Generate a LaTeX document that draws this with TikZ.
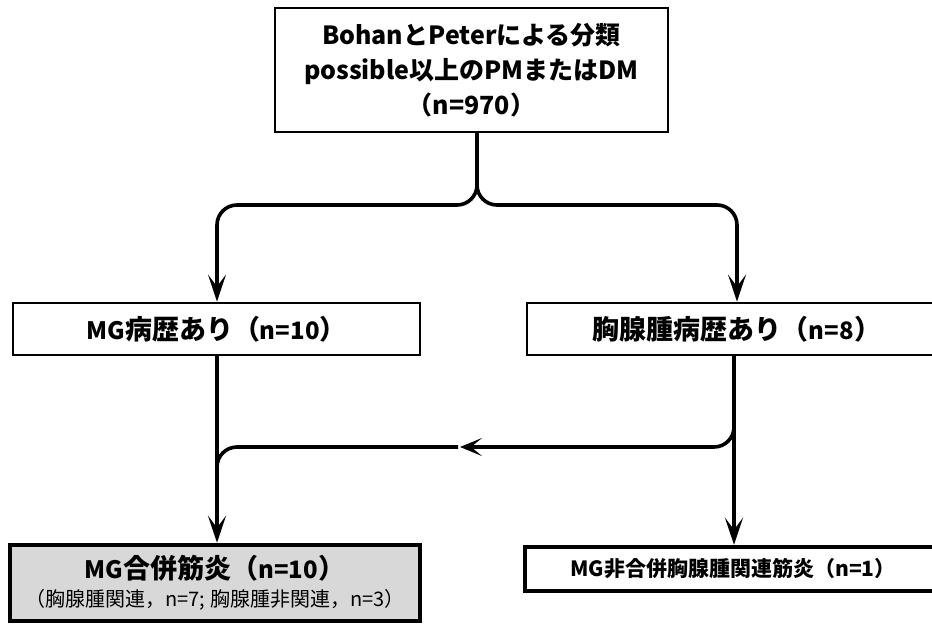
\documentclass[tikz,border=0pt]{standalone}
\usepackage{fontspec}
\setmainfont{Noto Sans CJK JP}
\usetikzlibrary{arrows.meta,calc}
\newcommand{\latn}[1]{{\fontsize{24}{24}\selectfont #1}}
\tikzset{
  box/.style={draw, line width=#1, fill=white, inner sep=0pt, align=center},
  conn/.style={line width=3.6pt},
  roundconn/.style={conn, rounded corners=20pt},
  arrowend/.style={conn, -{Stealth[length=27pt,width=18pt,inset=12pt]}},
  midarrow/.style={conn, -{Stealth[length=22pt,width=18pt,inset=11pt]}},
}
\begin{document}
\begin{tikzpicture}[x=1pt,y=-1pt]
\useasboundingbox (0,0) rectangle (932,624);
\clip (0,0) rectangle (932,624);
\node[box=2.2pt, minimum width=393pt, minimum height=124pt, font=\bfseries\fontsize{25}{35}\selectfont] (top) at (471.5,70)
  {BohanとPeterによる分類\\possible以上のPMまたはDM\\（n=970）};
\node[box=2.8pt, minimum width=407pt, minimum height=52pt, font=\bfseries\fontsize{27}{28}\selectfont] (mg) at (216.5,329) {\latn{MG}病歴あり（\latn{n=10}）};
\node[box=2.8pt, minimum width=420pt, minimum height=52pt, font=\bfseries\fontsize{27}{28}\selectfont] (thy) at (737,329) {胸腺腫病歴あり（\latn{n=8}）};
\node[box=4.5pt, fill={rgb,255:red,216;green,216;blue,216}, minimum width=410pt, minimum height=76pt, font=\fontsize{20}{28}\selectfont] (mgm) at (215,583)
  {{\bfseries\fontsize{27}{28}\selectfont \latn{MG}合併筋炎（\latn{n=10}）}\\{\fontsize{20}{28}\selectfont（胸腺腫関連，n=7; 胸腺腫非関連，n=3）}};
\node[box=4.5pt, minimum width=416pt, minimum height=44pt, font=\bfseries\fontsize{21}{22}\selectfont] (nonmg) at (733,569)
  {MG非合併胸腺腫関連筋炎（n=1）};
\coordinate (stem) at (477,132);
\coordinate (split) at (477,205);
\coordinate (lx) at (217,0);
\coordinate (rx) at (737,0);
\coordinate (rx2) at (734,0);
\coordinate (mtip) at (460,447);
\coordinate (mstart) at (734,400);
\coordinate (mend) at (217,480);
% split from top box
\draw[roundconn] (stem) |- (split -| lx) -- ($(mg.north -| lx)+(0,-40)$);
\draw[arrowend] ($(mg.north -| lx)+(0,-41)$) -- (mg.north -| lx);
\draw[roundconn] (stem) |- (split -| rx) -- ($(thy.north -| rx)+(0,-40)$);
\draw[arrowend] ($(thy.north -| rx)+(0,-41)$) -- (thy.north -| rx);
% down arrows
\draw[arrowend] (mg.south -| lx) -- (mgm.north -| lx);
\draw[arrowend] (thy.south -| rx2) -- (nonmg.north -| rx2);
% merge branch
\draw[roundconn] (mstart) |- ($(mtip)+(60,0)$);
\draw[midarrow] ($(mtip)+(61,0)$) -- (mtip);
\draw[roundconn] ([xshift=-2pt]mtip) -| (mend);
\end{tikzpicture}
\end{document}
